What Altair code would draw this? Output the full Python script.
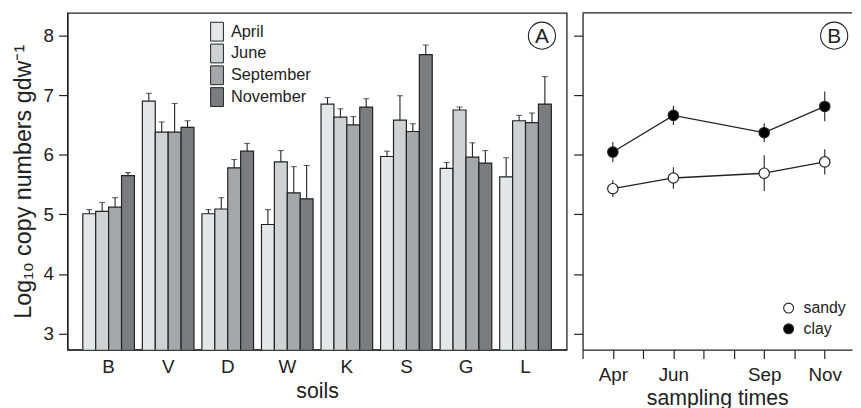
import altair as alt
import pandas as pd

FONT = "Liberation Sans"
INK = "#222222"

# ---- Panel A data ----
soils = ["B", "V", "D", "W", "K", "S", "G", "L"]
months = ["April", "June", "September", "November"]
april = [5.01, 6.90, 5.01, 4.83, 6.85, 5.97, 5.77, 5.63]
april_se = [0.07, 0.13, 0.07, 0.25, 0.11, 0.09, 0.10, 0.32]
june = [5.05, 6.38, 5.09, 5.88, 6.63, 6.58, 6.75, 6.57]
june_se = [0.15, 0.17, 0.19, 0.19, 0.14, 0.41, 0.05, 0.09]
september = [5.12, 6.38, 5.78, 5.36, 6.50, 6.39, 5.96, 6.54]
september_se = [0.16, 0.48, 0.14, 0.44, 0.14, 0.13, 0.24, 0.16]
november = [5.65, 6.46, 6.06, 5.26, 6.80, 7.68, 5.86, 6.85]
november_se = [0.05, 0.11, 0.13, 0.56, 0.14, 0.16, 0.21, 0.46]
bar_colors = ["#e5e6e8", "#d0d1d3", "#a6a7aa", "#7b7c80"]

# ---- Panel B data ----
sample_months = [4, 6, 9, 11]
soil_types = ["sandy", "clay"]
sandy = [5.43, 5.61, 5.69, 5.88]
sandy_se = [0.14, 0.18, 0.30, 0.21]
clay = [6.045, 6.66, 6.37, 6.81]
clay_se = [0.17, 0.16, 0.16, 0.25]

rows = []
for m, vals, ses in zip(months, [april, june, september, november],
                        [april_se, june_se, september_se, november_se]):
    for s, v, e in zip(soils, vals, ses):
        rows.append({"soil": s, "month": m, "value": v, "top": v + e})
dfa = pd.DataFrame(rows)

rows_b = []
for t, vals, ses in zip(soil_types, [sandy, clay], [sandy_se, clay_se]):
    for mo, v, e in zip(sample_months, vals, ses):
        rows_b.append({"type": t, "mnum": mo, "value": v, "lo": v - e, "hi": v + e})
dfb = pd.DataFrame(rows_b)

Y_DOM = [2.73, 8.38]
W_A, W_B, H = 504, 272, 340
LAB = 19
TIT = 21.5

yscale = alt.Scale(domain=Y_DOM, nice=False, zero=False)

xA_axis = alt.Axis(title="soils", labelAngle=0, ticks=False, tickSize=0, labelPadding=8,
                   labelFontSize=LAB, titleFontSize=TIT, titlePadding=4,
                   domainColor=INK, domainWidth=1.3, labelOverlap=False)
xA = alt.X("soil:N", sort=soils,
           scale=alt.Scale(paddingInner=0.133, paddingOuter=0.258), axis=xA_axis)
xoffA = alt.XOffset("month:N", sort=months,
                    scale=alt.Scale(paddingInner=0, paddingOuter=0))
yA_axis = alt.Axis(title="Log₁₀ copy numbers gdw⁻¹", values=[3, 4, 5, 6, 7, 8], format="d",
                   grid=False, tickSize=9, tickColor=INK, tickWidth=1.2,
                   labelPadding=5, labelFontSize=LAB, titleFontSize=23.5,
                   titlePadding=8, domainColor=INK, domainWidth=1.3)
yA = alt.Y("value:Q", scale=yscale, axis=yA_axis)
yA_top = alt.Y("top:Q", scale=yscale, axis=yA_axis)

bars = alt.Chart(dfa).mark_bar(stroke=INK, strokeWidth=1.2, clip=True).encode(
    x=xA,
    xOffset=xoffA,
    y=yA,
    fill=alt.Fill("month:N", sort=months,
                  scale=alt.Scale(domain=months, range=bar_colors),
                  legend=alt.Legend(title=None, orient="none", legendX=141, legendY=9,
                                    symbolType="M-0.68,-1H0.68V1H-0.68Z",
                                    symbolSize=361, symbolStrokeColor=INK,
                                    symbolStrokeWidth=1, symbolOpacity=1,
                                    labelFontSize=16.5, labelOffset=4, rowPadding=-2,
                                    labelColor=INK, padding=0)),
)
err = alt.Chart(dfa).mark_rule(color=INK, strokeWidth=1.1).encode(
    x=xA, xOffset=xoffA, y=yA, y2="top:Q")
caps = alt.Chart(dfa).mark_tick(color=INK, thickness=1.1, size=6).encode(
    x=xA, xOffset=xoffA, y=yA_top)

lab_a = pd.DataFrame({"t": ["A"]})
circ_a = alt.Chart(lab_a).mark_point(shape="circle", size=750, stroke=INK,
                                     strokeWidth=1.1, filled=False, opacity=1).encode(
    x=alt.value(479), y=alt.value(23))
text_a = alt.Chart(lab_a).mark_text(fontSize=21, font=FONT, color=INK, baseline="middle").encode(
    x=alt.value(479), y=alt.value(24), text="t:N")

panel_a = alt.layer(bars, err, caps, circ_a, text_a).properties(width=W_A, height=H)

# ---- Panel B ----
xB_axis = alt.Axis(title="sampling times", values=list(range(3, 12)),
                   labelExpr="datum.value==4?'Apr':datum.value==6?'Jun':datum.value==9?'Sep':datum.value==11?'Nov':''",
                   grid=False, tickSize=9, tickColor=INK, tickWidth=1.2,
                   labelPadding=7, labelFontSize=LAB, titleFontSize=TIT, titlePadding=3,
                   labelFlush=False, labelOverlap=False,
                   domainColor=INK, domainWidth=1.3)
xB = alt.X("mnum:Q", scale=alt.Scale(domain=[3, 11.9], nice=False, zero=False), axis=xB_axis)
yB_axis = alt.Axis(title=None, labels=False, values=[3, 4, 5, 6, 7, 8], grid=False,
                   tickSize=9, tickColor=INK, tickWidth=1.2,
                   domainColor=INK, domainWidth=1.3)
yB = alt.Y("value:Q", scale=yscale, axis=yB_axis)
yB_lo = alt.Y("lo:Q", scale=yscale, axis=yB_axis)

lines = alt.Chart(dfb).mark_line(color=INK, strokeWidth=1.3).encode(
    x=xB, y=yB, detail="type:N")
errb = alt.Chart(dfb).mark_rule(color=INK, strokeWidth=1.1).encode(
    x=xB, y=yB_lo, y2="hi:Q")
pts = alt.Chart(dfb).mark_point(shape="circle", filled=True, size=110, stroke=INK,
                                strokeWidth=1.2, opacity=1).encode(
    x=xB, y=yB,
    fill=alt.Fill("type:N", sort=soil_types,
                  scale=alt.Scale(domain=soil_types, range=["white", "black"]),
                  legend=alt.Legend(title=None, orient="none", legendX=200, legendY=290,
                                    symbolType="circle", symbolSize=100,
                                    symbolStrokeColor=INK, symbolStrokeWidth=1.1,
                                    symbolOpacity=1, labelFontSize=16, labelOffset=7,
                                    rowPadding=5, labelColor=INK, padding=0)))
top_line = alt.Chart(lab_a).mark_rule(color=INK, strokeWidth=1.3).encode(
    x=alt.value(0), x2=alt.value(W_B), y=alt.value(0))

lab_b = pd.DataFrame({"t": ["B"]})
circ_b = alt.Chart(lab_b).mark_point(shape="circle", size=750, stroke=INK,
                                     strokeWidth=1.1, filled=False, opacity=1).encode(
    x=alt.value(254), y=alt.value(23))
text_b = alt.Chart(lab_b).mark_text(fontSize=21, font=FONT, color=INK, baseline="middle").encode(
    x=alt.value(254), y=alt.value(24), text="t:N")

panel_b = alt.layer(lines, errb, pts, top_line, circ_b, text_b).properties(
    width=W_B, height=H, view=alt.ViewBackground(stroke="transparent", strokeWidth=0))

chart = alt.hconcat(panel_a, panel_b, spacing=5).resolve_scale(
    x="independent", y="independent", fill="independent"
).resolve_legend(fill="independent").properties(
    padding={"left": 2, "top": 2, "right": 0, "bottom": 0}
).configure_view(stroke=INK, strokeWidth=1.3).configure_axis(
    labelFont=FONT, titleFont=FONT, labelColor=INK, titleColor=INK, titleFontWeight="normal"
).configure_legend(labelFont=FONT).configure_text(font=FONT)

chart.save("out.html", embed_options={"renderer": "svg", "actions": False})
